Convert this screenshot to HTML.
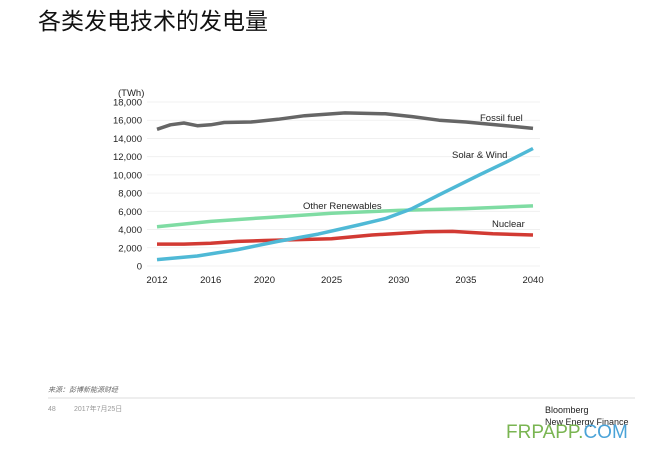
<!DOCTYPE html><html><head><meta charset="utf-8"><style>
body{margin:0;width:665px;height:454px;background:#fff;overflow:hidden;font-family:"Liberation Sans","Noto Sans CJK SC",sans-serif}
</style></head><body>
<svg id="s" width="665" height="454" xmlns="http://www.w3.org/2000/svg" font-family="Liberation Sans, Noto Sans CJK SC, sans-serif">
<text x="38" y="29" font-size="23" fill="#111">各类发电技术的发电量</text>
<text x="118" y="96" font-size="9.5" fill="#222">(TWh)</text>
<g id="g"></g>
<text x="480" y="121" font-size="9.5" fill="#222">Fossil fuel</text>
<text x="452" y="158" font-size="9.5" fill="#222">Solar &amp; Wind</text>
<text x="303" y="209" font-size="9.5" fill="#222">Other Renewables</text>
<text x="492" y="227" font-size="9.5" fill="#222">Nuclear</text>
<text x="48" y="392" font-size="7" fill="#666" font-style="italic">来源：彭博新能源财经</text>
<line x1="48" y1="398" x2="635" y2="398" stroke="#ddd"/>
<text x="48" y="411" font-size="7" fill="#999">48</text>
<text x="74" y="411" font-size="7" fill="#999">2017年7月25日</text>
<text x="545" y="413" font-size="9" fill="#222">Bloomberg</text>
<text x="545" y="425" font-size="9" fill="#222">New Energy Finance</text>
<text x="506" y="438" font-size="19" fill="#7ab552">FRPAPP.<tspan fill="#4aa3d8">COM</tspan></text>
</svg>
<script>
var g=document.getElementById('g'),h='';
function Y(v){return 266-v*164/18000}function X(y){return 157+(y-2012)*13.43}
for(var v=0;v<=18000;v+=2000){var y=Y(v);h+='<line x1="147" x2="540" y1="'+y+'" y2="'+y+'" stroke="#eee" stroke-width="0.8"/>';h+='<text x="142" y="'+(y+3.5)+'" font-size="9.5" text-anchor="end" fill="#222">'+v.toLocaleString('en-US')+'</text>'}
[2012,2016,2020,2025,2030,2035,2040].forEach(function(t){h+='<text x="'+X(t)+'" y="283" font-size="9.5" text-anchor="middle" fill="#222">'+t+'</text>'});
function L(d,c){var p=d.map(function(a){return X(a[0]).toFixed(1)+','+Y(a[1]).toFixed(1)}).join(' ');h+='<polyline points="'+p+'" fill="none" stroke="'+c+'" stroke-width="3.5" stroke-linejoin="round"/>'}
L([[2012,4300],[2016,4900],[2020,5300],[2025,5800],[2030,6100],[2035,6300],[2040,6600]],'#7fdca3');
L([[2012,2400],[2014,2400],[2016,2500],[2018,2700],[2020,2800],[2025,3000],[2028,3400],[2032,3750],[2034,3800],[2037,3550],[2040,3400]],'#d23a33');
L([[2012,700],[2015,1100],[2018,1800],[2021,2700],[2024,3500],[2027,4500],[2029,5200],[2031,6300],[2033,7800],[2036,10000],[2038,11400],[2040,12900]],'#4fb9d6');
L([[2012,15000],[2013,15500],[2014,15700],[2015,15400],[2016,15500],[2017,15750],[2019,15800],[2021,16100],[2023,16500],[2026,16800],[2029,16700],[2031,16400],[2033,16000],[2035,15800],[2038,15400],[2040,15100]],'#666');
g.innerHTML=h;
</script>
</body></html>
